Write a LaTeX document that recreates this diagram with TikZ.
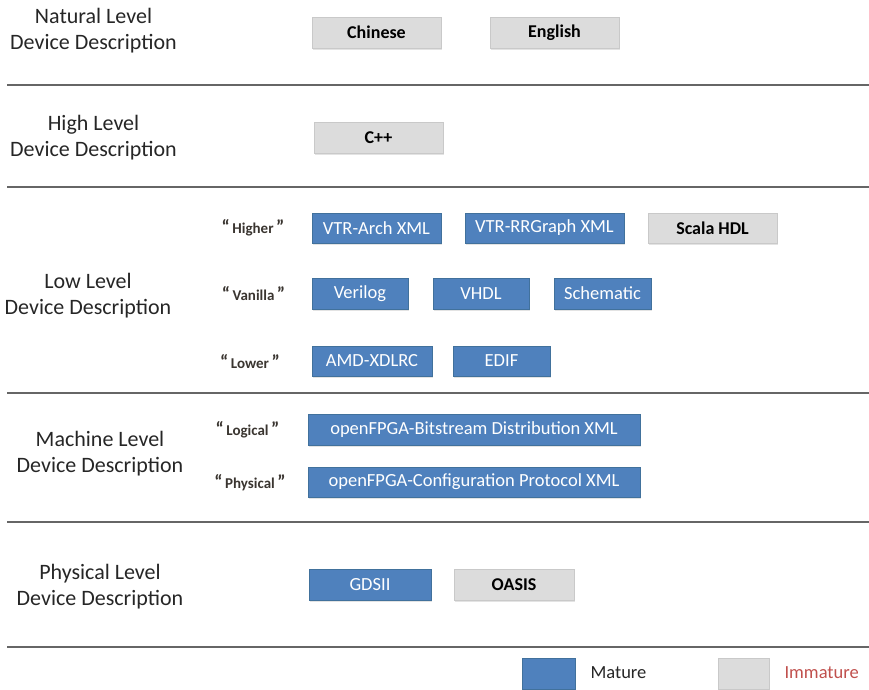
\documentclass[tikz,border=0pt]{standalone}
\usepackage{fontspec}
\setmainfont{Carlito}
\usetikzlibrary{shadows}

\definecolor{matureblue}{HTML}{4F81BD}
\definecolor{matureedge}{HTML}{41719C}
\definecolor{immaturegray}{HTML}{DCDCDC}
\definecolor{immatureedge}{HTML}{C9C9C9}
\definecolor{rulegray}{HTML}{666666}
\definecolor{quotetext}{HTML}{3A3530}
\definecolor{legendred}{HTML}{C0504D}

\tikzset{
  tile/.style={rectangle, inner sep=0pt, line width=0.8pt,
    drop shadow={shadow xshift=1.2pt, shadow yshift=-1.8pt, opacity=0.22}},
  mature/.style={tile, fill=matureblue, draw=matureedge, text=white,
    font=\fontsize{18.5}{20}\selectfont},
  immature/.style={tile, fill=immaturegray, draw=immatureedge, text=black,
    font=\bfseries\fontsize{18}{20}\selectfont},
  levellabel/.style={align=center, text=black!85,
    font=\fontsize{22}{26}\selectfont},
  sublabel/.style={text=quotetext, font=\bfseries\fontsize{15}{16}\selectfont},
  separator/.style={draw=rulegray, line width=2.4pt},
  legendtext/.style={anchor=west, font=\fontsize{18.5}{20}\selectfont}
}

% sub-level names set between heavier quotation marks
\newcommand{\quoted}[1]{{\fontsize{19}{16}\selectfont“}\,#1\,{\fontsize{19}{16}\selectfont”}}

\begin{document}
\begin{tikzpicture}[x=1pt,y=-1pt]
  \useasboundingbox (0,0) rectangle (869,689);

  % horizontal rules between the levels
  \foreach \yy/\nm in {85/r1,187/r2,393/r3,522/r4,647/r5} {
    \coordinate (\nm a) at (7,\yy);
    \coordinate (\nm b) at (869,\yy);
    \draw[separator] (\nm a) -- (\nm b);
  }

  % level names
  \node[levellabel] (natural)  at (93.5,30.5) {Natural Level\\Device Description};
  \node[levellabel] (high)     at (93.5,138)  {High Level\\Device Description};
  \node[levellabel] (low)      at (88,295.5)  {Low Level\\Device Description};
  \node[levellabel] (machine)  at (100,454)   {Machine Level\\Device Description};
  \node[levellabel] (physical) at (100,587)   {Physical Level\\Device Description};

  % sub-levels
  \node[sublabel] (higher)  at (253,228)   {\quoted{Higher}};
  \node[sublabel] (vanilla) at (253.5,294) {\quoted{Vanilla}};
  \node[sublabel] (lower)   at (250,362)   {\quoted{Lower}};
  \node[sublabel] (logical) at (247.5,430) {\quoted{Logical}};
  \node[sublabel] (physsub) at (250,483)   {\quoted{Physical}};

  % natural level
  \node[immature, minimum width=129, minimum height=31] (chinese) at (376.5,32.5) {Chinese};
  \node[immature, minimum width=129, minimum height=31] (english) at (554.5,32.5) {English};

  % high level
  \node[immature, minimum width=129, minimum height=31] (cpp) at (378.5,137.5) {C++};

  % low level
  \node[mature, minimum width=129, minimum height=30] (vtrarch) at (376.5,228) {VTR-Arch XML};
  \node[mature, minimum width=159, minimum height=30] (vtrrr) at (544.5,228) {VTR-RRGraph XML};
  \node[immature, minimum width=129, minimum height=30] (scala) at (712.5,228) {Scala HDL};

  \node[mature, minimum width=96, minimum height=31] (verilog) at (360,293.5) {Verilog};
  \node[mature, minimum width=96, minimum height=31] (vhdl) at (481,293.5) {VHDL};
  \node[mature, minimum width=97, minimum height=31] (schematic) at (602.5,293.5) {Schematic};

  \node[mature, minimum width=120, minimum height=30] (xdlrc) at (372,361) {AMD-XDLRC};
  \node[mature, minimum width=97, minimum height=30] (edif) at (501.5,361) {EDIF};

  % machine level
  \node[mature, minimum width=332, minimum height=31] (bitstream) at (474,429.5) {openFPGA-Bitstream Distribution XML};
  \node[mature, minimum width=332, minimum height=30] (config) at (474,482) {openFPGA-Configuration Protocol XML};

  % physical level
  \node[mature, minimum width=122, minimum height=31] (gdsii) at (370,584.5) {GDSII};
  \node[immature, minimum width=120, minimum height=31] (oasis) at (514,584.5) {OASIS};

  % legend
  \node[mature, minimum width=53, minimum height=31] (keymature) at (548.5,673.5) {};
  \node[legendtext, text=black!85] (keymaturetext) at (587,673) {Mature};
  \node[immature, minimum width=51, minimum height=31] (keyimmature) at (743.5,673.5) {};
  \node[legendtext, text=legendred] (keyimmaturetext) at (781,673) {Immature};
\end{tikzpicture}
\end{document}
